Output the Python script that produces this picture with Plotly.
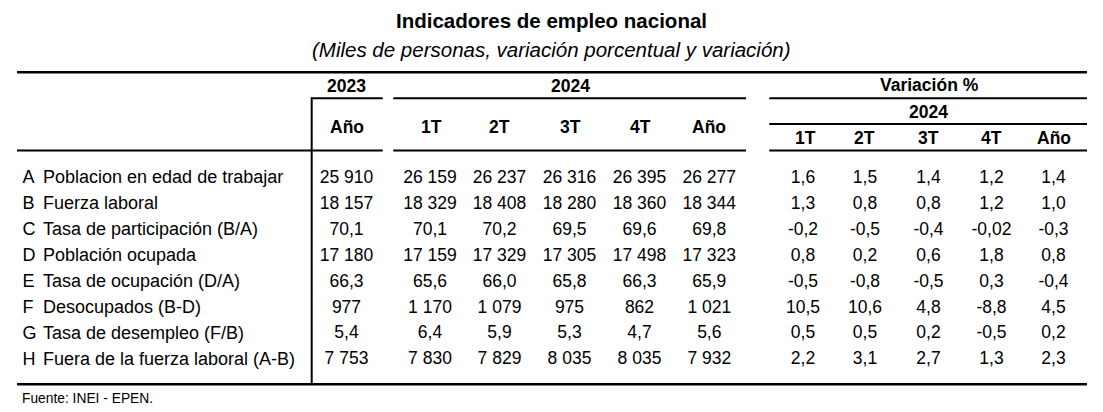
import plotly.graph_objects as go

# rows of the table
letters = ["A", "B", "C", "D", "E", "F", "G", "H"]
labels = [
    "Poblacion en edad de trabajar",
    "Fuerza laboral",
    "Tasa de participación (B/A)",
    "Población ocupada",
    "Tasa de ocupación (D/A)",
    "Desocupados (B-D)",
    "Tasa de desempleo (F/B)",
    "Fuera de la fuerza laboral (A-B)",
]
is_rate = [False, False, True, False, True, False, True, False]

# levels (miles de personas / tasas)
anio_2023 = [25910, 18157, 70.1, 17180, 66.3, 977, 5.4, 7753]
t1_2024 = [26159, 18329, 70.1, 17159, 65.6, 1170, 6.4, 7830]
t2_2024 = [26237, 18408, 70.2, 17329, 66.0, 1079, 5.9, 7829]
t3_2024 = [26316, 18280, 69.5, 17305, 65.8, 975, 5.3, 8035]
t4_2024 = [26395, 18360, 69.6, 17498, 66.3, 862, 4.7, 8035]
anio_2024 = [26277, 18344, 69.8, 17323, 65.9, 1021, 5.6, 7932]

# variacion %
var_1t = [1.6, 1.3, -0.2, 0.8, -0.5, 10.5, 0.5, 2.2]
var_2t = [1.5, 0.8, -0.5, 0.2, -0.8, 10.6, 0.5, 3.1]
var_3t = [1.4, 0.8, -0.4, 0.6, -0.5, 4.8, 0.2, 2.7]
var_4t = [1.2, 1.2, -0.02, 1.8, 0.3, -8.8, -0.5, 1.3]
var_anio = [1.4, 1.0, -0.3, 0.8, -0.4, 4.5, 0.2, 2.3]

level_headers = ["Año", "1T", "2T", "3T", "4T", "Año"]
var_headers = ["1T", "2T", "3T", "4T", "Año"]

FONT = "Liberation Sans, Arial, sans-serif"
W, H = 1103, 412
PAD = 8  # default page margin of the html body


def fmt_level(v, rate):
    if rate:
        return f"{v:.1f}".replace(".", ",")
    return f"{int(v):,}".replace(",", " ")


def fmt_var(v):
    s = f"{v:.1f}" if round(v, 1) == v else f"{v:.2f}"
    return s.replace(".", ",")


row_y = [178.5 + 25.93 * i for i in range(len(letters))]
level_x = [346.5, 430, 499.5, 569.5, 639.5, 709.3]
var_x = [803, 865, 928.5, 991.5, 1053.5]

fig = go.Figure()

fig.add_trace(go.Scatter(x=[22.5] * 8, y=row_y, text=letters, mode="text",
                         textposition="middle right", hoverinfo="skip",
                         textfont=dict(family=FONT, size=18, color="black")))
fig.add_trace(go.Scatter(x=[43] * 8, y=row_y, text=labels, mode="text",
                         textposition="middle right", hoverinfo="skip",
                         textfont=dict(family=FONT, size=18, color="black")))

for cx, col in zip(level_x, [anio_2023, t1_2024, t2_2024, t3_2024, t4_2024, anio_2024]):
    fig.add_trace(go.Scatter(x=[cx] * 8, y=row_y,
                             text=[fmt_level(v, r) for v, r in zip(col, is_rate)],
                             mode="text", textposition="middle center", hoverinfo="skip",
                             textfont=dict(family=FONT, size=17.5, color="black")))

for cx, col in zip(var_x, [var_1t, var_2t, var_3t, var_4t, var_anio]):
    fig.add_trace(go.Scatter(x=[cx] * 8, y=row_y, text=[fmt_var(v) for v in col],
                             mode="text", textposition="middle center", hoverinfo="skip",
                             textfont=dict(family=FONT, size=17.5, color="black")))

ann = []


def add_text(x, y, t, size=17.5, anchor="center"):
    ann.append(dict(x=x, y=y, xref="x", yref="y", text=t, showarrow=False,
                    xanchor=anchor, yanchor="middle",
                    font=dict(family=FONT, size=size, color="black")))


add_text(551.5, 20, "<b>Indicadores de empleo nacional</b>", 20.5)
add_text(551, 49, "<i>(Miles de personas, variación porcentual y variación)</i>", 20.5)
add_text(346.7, 86, "<b>2023</b>")
add_text(570, 86, "<b>2024</b>")
add_text(929, 85, "<b>Variación %</b>")
add_text(928, 111.5, "<b>2024</b>")
for hx, h in zip([346.7, 431.5, 499.5, 570, 640, 709.3], level_headers):
    add_text(hx, 126.5, f"<b>{h}</b>")
for hx, h in zip([805, 864.5, 928.5, 991.5, 1054], var_headers):
    add_text(hx, 138, f"<b>{h}</b>")
add_text(20, 398.5, "Fuente: INEI - EPEN.", 13.8, "left")

shapes = []


def hline(x0, x1, y, w=2):
    shapes.append(dict(type="line", xref="x", yref="y", x0=x0, x1=x1, y0=y, y1=y,
                       line=dict(color="black", width=w)))


hline(17, 1087, 72.3, 2.6)
hline(311, 382.7, 98.3)
hline(393.3, 746, 98.3)
hline(769.3, 1087, 98.3)
hline(769.3, 1087, 124)
hline(17, 382.7, 150.5)
hline(393.3, 746, 150.5)
hline(769.3, 1087, 150.5)
hline(17, 1087, 384.3, 2.6)
shapes.append(dict(type="line", xref="x", yref="y", x0=311.7, x1=311.7, y0=97.5, y1=385,
                   line=dict(color="black", width=2)))

# the page body has an 8px margin, so the figure is made 8px smaller and the
# axes start at 8 so that coordinates match the window pixels
fig.update_layout(
    width=W - PAD, height=H - PAD,
    margin=dict(l=0, r=0, t=0, b=0),
    paper_bgcolor="white", plot_bgcolor="white",
    showlegend=False,
    xaxis=dict(range=[PAD, W], visible=False, fixedrange=True),
    yaxis=dict(range=[H, PAD], visible=False, fixedrange=True),
    annotations=ann, shapes=shapes,
)

fig.write_html("out.html", config={"displayModeBar": False})
